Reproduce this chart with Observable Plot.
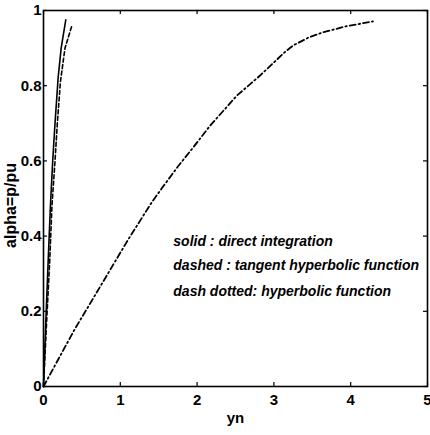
<!DOCTYPE html>
<html>
<head>
<meta charset="utf-8">
<script src="https://cdn.jsdelivr.net/npm/d3@7"></script>
<script src="https://cdn.jsdelivr.net/npm/@observablehq/plot@0.6"></script>
<style>
  html, body { margin: 0; padding: 0; background: white; }
</style>
</head>
<body>
<div id="chart"></div>
<script>
const xTicks = [0, 1, 2, 3, 4, 5];
const yTicks = [0, 0.2, 0.4, 0.6, 0.8, 1];
const yTickLabels = ["0", "0.2", "0.4", "0.6", "0.8", "1"];

const solidX = [0, 0.03, 0.06, 0.09, 0.12, 0.15, 0.19, 0.23, 0.29];
const solidY = [0, 0.17, 0.33, 0.48, 0.6, 0.7, 0.82, 0.9, 0.975];

const dashedX = [0, 0.04, 0.08, 0.11, 0.15, 0.18, 0.22, 0.28, 0.37];
const dashedY = [0, 0.17, 0.33, 0.48, 0.6, 0.7, 0.81, 0.9, 0.96];

const dashDotX = [0, 0.4, 0.78, 1.1, 1.41, 1.54, 1.75, 1.95, 2.17, 2.52, 2.82, 3.14, 3.25, 3.45, 3.64, 3.94, 4.29];
const dashDotY = [0, 0.15, 0.28, 0.39, 0.49, 0.527, 0.585, 0.636, 0.694, 0.774, 0.827, 0.889, 0.907, 0.928, 0.942, 0.958, 0.971];

const legendLines = ["solid : direct integration", "dashed : tangent hyperbolic function", "dash dotted: hyperbolic function"];
const legendX = [1.69, 1.69, 1.69];
const legendY = [0.375, 0.309, 0.242];

const xLabel = "yn";
const yLabel = "alpha=p/pu";

const toPts = (xs, ys) => xs.map((x, i) => ({x, y: ys[i]}));

const chart = Plot.plot({
  width: 430,
  height: 435,
  marginLeft: 43,
  marginRight: 3,
  marginTop: 10,
  marginBottom: 49,
  x: {domain: [0, 5]},
  y: {domain: [0, 1]},
  style: {fontFamily: "'Liberation Sans', Arial, sans-serif", fontWeight: "bold", fontSize: "15px", background: "white", color: "black"},
  marks: [
    Plot.axisX(xTicks, {tickSize: 0, tickPadding: 8, label: null, fontSize: 15}),
    Plot.axisY(yTicks, {tickSize: 0, tickPadding: 2, label: null, fontSize: 15, tickFormat: d => yTickLabels[yTicks.indexOf(d)]}),
    Plot.tickX(xTicks, {x: d => d, insetTop: 372, stroke: "black", strokeWidth: 1.2}),
    Plot.tickX(xTicks, {x: d => d, insetBottom: 372, stroke: "black", strokeWidth: 1.2}),
    Plot.tickY(yTicks, {y: d => d, insetRight: 380, stroke: "black", strokeWidth: 1.2}),
    Plot.tickY(yTicks, {y: d => d, insetLeft: 380, stroke: "black", strokeWidth: 1.2}),
    Plot.line(toPts(dashDotX, dashDotY), {x: "x", y: "y", stroke: "black", strokeWidth: 1.8, strokeDasharray: "6,3,1.5,3"}),
    Plot.line(toPts(dashedX, dashedY), {x: "x", y: "y", stroke: "black", strokeWidth: 1.6, strokeDasharray: "4,2.5"}),
    Plot.line(toPts(solidX, solidY), {x: "x", y: "y", stroke: "black", strokeWidth: 1.6}),
    Plot.frame({stroke: "black", strokeWidth: 1.6}),
    Plot.text(legendLines, {x: (d, i) => legendX[i], y: (d, i) => legendY[i], text: d => d, textAnchor: "start", lineAnchor: "bottom", fontStyle: "italic", fontSize: 14, fill: "black"}),
    Plot.text([xLabel], {frameAnchor: "bottom", dy: 32, text: d => d, textAnchor: "middle", lineAnchor: "middle", fontSize: 15}),
    Plot.text([yLabel], {frameAnchor: "left", dx: -33, dy: 7, text: d => d, rotate: -90, textAnchor: "middle", lineAnchor: "middle", fontSize: 16})
  ]
});
document.getElementById("chart").appendChild(chart);
</script>
</body>
</html>
